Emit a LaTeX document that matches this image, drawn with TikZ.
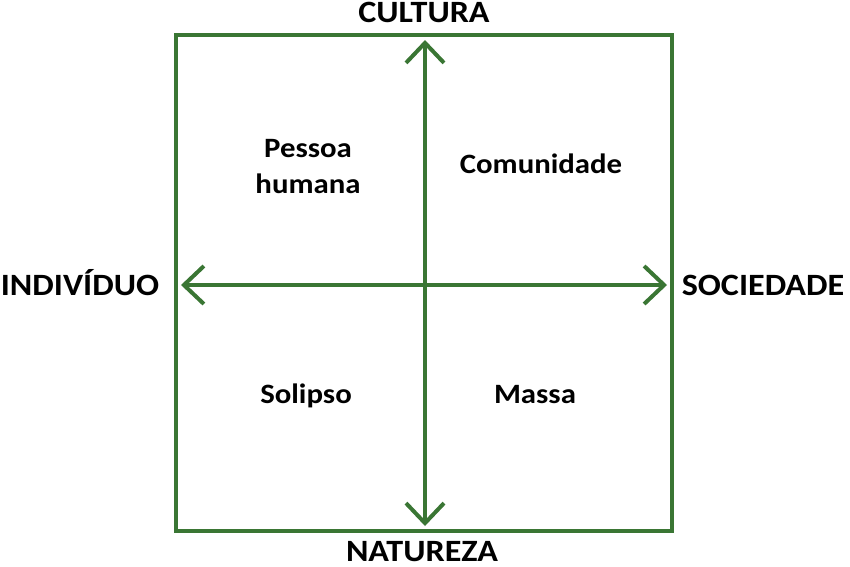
\documentclass[tikz,border=0pt]{standalone}
\usepackage{fontspec}
\setmainfont{Carlito}[FakeStretch=1.1]
\usetikzlibrary{arrows.meta}
\definecolor{eixoverde}{RGB}{58,118,52}

\begin{document}
\begin{tikzpicture}[x=1pt, y=-1pt,
  eixo/.style={eixoverde, line width=4pt, {Straight Barb[length=20pt, width=38pt]}-{Straight Barb[length=20pt, width=38pt]}},
  rotulo/.style={font=\fontsize{31}{36}\selectfont\bfseries, inner sep=0pt, anchor=base},
  quadrante/.style={font=\fontsize{28}{36}\selectfont\bfseries, align=center, inner sep=0pt, anchor=base}]
\path[use as bounding box] (0,0) rectangle (850,566);
\draw[eixoverde, line width=3.5pt] (176,35) rectangle (672,531);
\coordinate (topo) at (425,40);
\coordinate (base) at (425,526);
\coordinate (esq) at (181,285);
\coordinate (dir) at (667,285);
\draw[eixo] (base) -- (topo);
\draw[eixo] (esq) -- (dir);
\node[rotulo] (cultura) at (424,22) {CULTURA};
\node[rotulo] (natureza) at (422,561) {NATUREZA};
\node[rotulo] (individuo) at (80,295) {INDIVÍDUO};
\node[rotulo] (sociedade) at (763,295) {SOCIEDADE};
\node[quadrante] (pessoa) at (308,193) {Pessoa\\humana};
\node[quadrante] (comunidade) at (541,173) {Comunidade};
\node[quadrante] (solipso) at (306,403) {Solipso};
\node[quadrante] (massa) at (535,403) {Massa};
\end{tikzpicture}
\end{document}
